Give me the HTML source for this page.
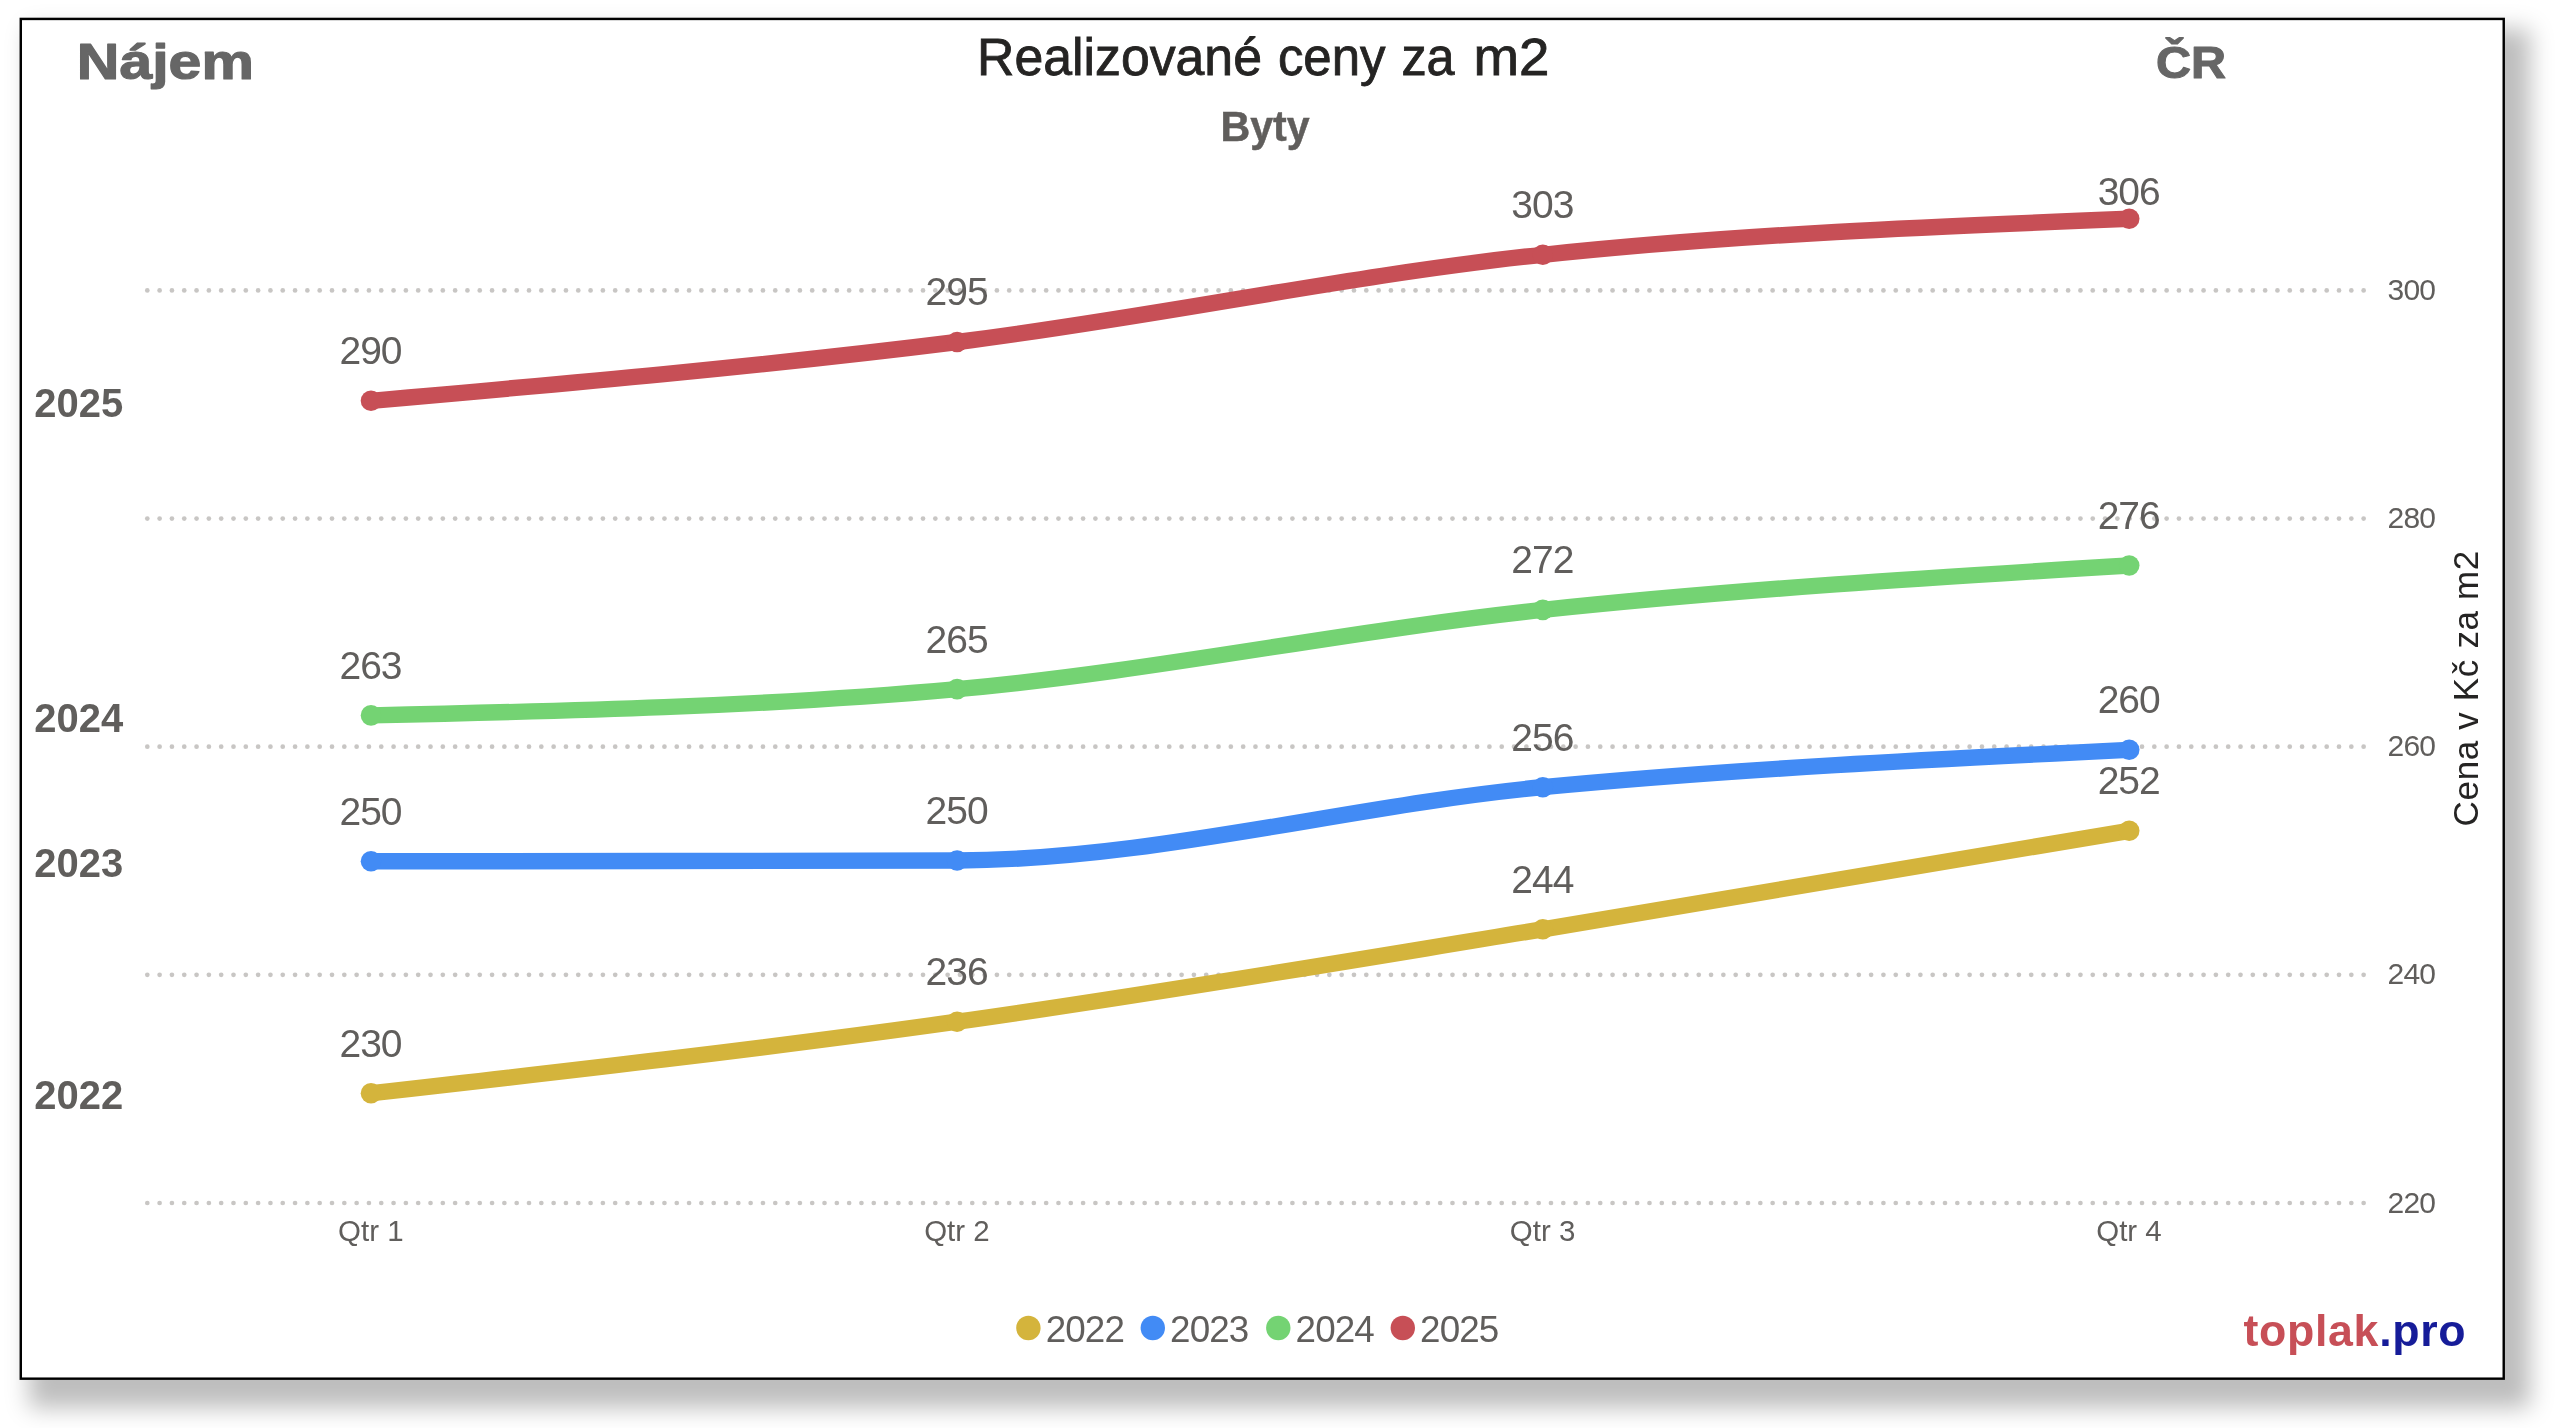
<!DOCTYPE html>
<html lang="cs"><head><meta charset="utf-8"><title>Realizované ceny za m2</title>
<style>
html,body{margin:0;padding:0;background:#fff;}
body{width:2560px;height:1428px;overflow:hidden;position:relative;font-family:"Liberation Sans",sans-serif;}
#shadow{position:absolute;left:19.6px;top:17.7px;width:2485.4px;height:1362.2px;background:#fff;box-shadow:17.2px 19.5px 22px 8.2px rgba(0,0,0,0.26);}
svg{position:absolute;left:0;top:0;will-change:transform;}
text{font-family:"Liberation Sans",sans-serif;}
.dl{font-size:39px;fill:#605e5c;text-anchor:middle;letter-spacing:-1px;}
.yt{font-size:30px;fill:#605e5c;letter-spacing:-0.9px;}
.xt{font-size:30.4px;fill:#605e5c;}
.yr{font-size:40px;font-weight:bold;fill:#605e5c;}
.lg{font-size:36.8px;fill:#605e5c;letter-spacing:-0.9px;}
</style></head><body>
<div id="shadow"></div>
<svg width="2560" height="1428" viewBox="0 0 2560 1428">
<rect x="20.78" y="18.93" width="2482.95" height="1359.75" fill="#fff" stroke="#000" stroke-width="2.45"/>
<defs><g id="gr" fill="#c8c6c4"><circle cx="147.30" cy="0" r="2.35"/><circle cx="159.61" cy="0" r="2.35"/><circle cx="171.93" cy="0" r="2.35"/><circle cx="184.24" cy="0" r="2.35"/><circle cx="196.55" cy="0" r="2.35"/><circle cx="208.87" cy="0" r="2.35"/><circle cx="221.18" cy="0" r="2.35"/><circle cx="233.49" cy="0" r="2.35"/><circle cx="245.80" cy="0" r="2.35"/><circle cx="258.12" cy="0" r="2.35"/><circle cx="270.43" cy="0" r="2.35"/><circle cx="282.74" cy="0" r="2.35"/><circle cx="295.06" cy="0" r="2.35"/><circle cx="307.37" cy="0" r="2.35"/><circle cx="319.68" cy="0" r="2.35"/><circle cx="332.00" cy="0" r="2.35"/><circle cx="344.31" cy="0" r="2.35"/><circle cx="356.62" cy="0" r="2.35"/><circle cx="368.93" cy="0" r="2.35"/><circle cx="381.25" cy="0" r="2.35"/><circle cx="393.56" cy="0" r="2.35"/><circle cx="405.87" cy="0" r="2.35"/><circle cx="418.19" cy="0" r="2.35"/><circle cx="430.50" cy="0" r="2.35"/><circle cx="442.81" cy="0" r="2.35"/><circle cx="455.12" cy="0" r="2.35"/><circle cx="467.44" cy="0" r="2.35"/><circle cx="479.75" cy="0" r="2.35"/><circle cx="492.06" cy="0" r="2.35"/><circle cx="504.38" cy="0" r="2.35"/><circle cx="516.69" cy="0" r="2.35"/><circle cx="529.00" cy="0" r="2.35"/><circle cx="541.32" cy="0" r="2.35"/><circle cx="553.63" cy="0" r="2.35"/><circle cx="565.94" cy="0" r="2.35"/><circle cx="578.26" cy="0" r="2.35"/><circle cx="590.57" cy="0" r="2.35"/><circle cx="602.88" cy="0" r="2.35"/><circle cx="615.19" cy="0" r="2.35"/><circle cx="627.51" cy="0" r="2.35"/><circle cx="639.82" cy="0" r="2.35"/><circle cx="652.13" cy="0" r="2.35"/><circle cx="664.45" cy="0" r="2.35"/><circle cx="676.76" cy="0" r="2.35"/><circle cx="689.07" cy="0" r="2.35"/><circle cx="701.38" cy="0" r="2.35"/><circle cx="713.70" cy="0" r="2.35"/><circle cx="726.01" cy="0" r="2.35"/><circle cx="738.32" cy="0" r="2.35"/><circle cx="750.64" cy="0" r="2.35"/><circle cx="762.95" cy="0" r="2.35"/><circle cx="775.26" cy="0" r="2.35"/><circle cx="787.58" cy="0" r="2.35"/><circle cx="799.89" cy="0" r="2.35"/><circle cx="812.20" cy="0" r="2.35"/><circle cx="824.52" cy="0" r="2.35"/><circle cx="836.83" cy="0" r="2.35"/><circle cx="849.14" cy="0" r="2.35"/><circle cx="861.45" cy="0" r="2.35"/><circle cx="873.77" cy="0" r="2.35"/><circle cx="886.08" cy="0" r="2.35"/><circle cx="898.39" cy="0" r="2.35"/><circle cx="910.71" cy="0" r="2.35"/><circle cx="923.02" cy="0" r="2.35"/><circle cx="935.33" cy="0" r="2.35"/><circle cx="947.64" cy="0" r="2.35"/><circle cx="959.96" cy="0" r="2.35"/><circle cx="972.27" cy="0" r="2.35"/><circle cx="984.58" cy="0" r="2.35"/><circle cx="996.90" cy="0" r="2.35"/><circle cx="1009.21" cy="0" r="2.35"/><circle cx="1021.52" cy="0" r="2.35"/><circle cx="1033.84" cy="0" r="2.35"/><circle cx="1046.15" cy="0" r="2.35"/><circle cx="1058.46" cy="0" r="2.35"/><circle cx="1070.78" cy="0" r="2.35"/><circle cx="1083.09" cy="0" r="2.35"/><circle cx="1095.40" cy="0" r="2.35"/><circle cx="1107.71" cy="0" r="2.35"/><circle cx="1120.03" cy="0" r="2.35"/><circle cx="1132.34" cy="0" r="2.35"/><circle cx="1144.65" cy="0" r="2.35"/><circle cx="1156.97" cy="0" r="2.35"/><circle cx="1169.28" cy="0" r="2.35"/><circle cx="1181.59" cy="0" r="2.35"/><circle cx="1193.90" cy="0" r="2.35"/><circle cx="1206.22" cy="0" r="2.35"/><circle cx="1218.53" cy="0" r="2.35"/><circle cx="1230.84" cy="0" r="2.35"/><circle cx="1243.16" cy="0" r="2.35"/><circle cx="1255.47" cy="0" r="2.35"/><circle cx="1267.78" cy="0" r="2.35"/><circle cx="1280.10" cy="0" r="2.35"/><circle cx="1292.41" cy="0" r="2.35"/><circle cx="1304.72" cy="0" r="2.35"/><circle cx="1317.04" cy="0" r="2.35"/><circle cx="1329.35" cy="0" r="2.35"/><circle cx="1341.66" cy="0" r="2.35"/><circle cx="1353.97" cy="0" r="2.35"/><circle cx="1366.29" cy="0" r="2.35"/><circle cx="1378.60" cy="0" r="2.35"/><circle cx="1390.91" cy="0" r="2.35"/><circle cx="1403.23" cy="0" r="2.35"/><circle cx="1415.54" cy="0" r="2.35"/><circle cx="1427.85" cy="0" r="2.35"/><circle cx="1440.16" cy="0" r="2.35"/><circle cx="1452.48" cy="0" r="2.35"/><circle cx="1464.79" cy="0" r="2.35"/><circle cx="1477.10" cy="0" r="2.35"/><circle cx="1489.42" cy="0" r="2.35"/><circle cx="1501.73" cy="0" r="2.35"/><circle cx="1514.04" cy="0" r="2.35"/><circle cx="1526.36" cy="0" r="2.35"/><circle cx="1538.67" cy="0" r="2.35"/><circle cx="1550.98" cy="0" r="2.35"/><circle cx="1563.30" cy="0" r="2.35"/><circle cx="1575.61" cy="0" r="2.35"/><circle cx="1587.92" cy="0" r="2.35"/><circle cx="1600.23" cy="0" r="2.35"/><circle cx="1612.55" cy="0" r="2.35"/><circle cx="1624.86" cy="0" r="2.35"/><circle cx="1637.17" cy="0" r="2.35"/><circle cx="1649.49" cy="0" r="2.35"/><circle cx="1661.80" cy="0" r="2.35"/><circle cx="1674.11" cy="0" r="2.35"/><circle cx="1686.42" cy="0" r="2.35"/><circle cx="1698.74" cy="0" r="2.35"/><circle cx="1711.05" cy="0" r="2.35"/><circle cx="1723.36" cy="0" r="2.35"/><circle cx="1735.68" cy="0" r="2.35"/><circle cx="1747.99" cy="0" r="2.35"/><circle cx="1760.30" cy="0" r="2.35"/><circle cx="1772.62" cy="0" r="2.35"/><circle cx="1784.93" cy="0" r="2.35"/><circle cx="1797.24" cy="0" r="2.35"/><circle cx="1809.56" cy="0" r="2.35"/><circle cx="1821.87" cy="0" r="2.35"/><circle cx="1834.18" cy="0" r="2.35"/><circle cx="1846.49" cy="0" r="2.35"/><circle cx="1858.81" cy="0" r="2.35"/><circle cx="1871.12" cy="0" r="2.35"/><circle cx="1883.43" cy="0" r="2.35"/><circle cx="1895.75" cy="0" r="2.35"/><circle cx="1908.06" cy="0" r="2.35"/><circle cx="1920.37" cy="0" r="2.35"/><circle cx="1932.68" cy="0" r="2.35"/><circle cx="1945.00" cy="0" r="2.35"/><circle cx="1957.31" cy="0" r="2.35"/><circle cx="1969.62" cy="0" r="2.35"/><circle cx="1981.94" cy="0" r="2.35"/><circle cx="1994.25" cy="0" r="2.35"/><circle cx="2006.56" cy="0" r="2.35"/><circle cx="2018.88" cy="0" r="2.35"/><circle cx="2031.19" cy="0" r="2.35"/><circle cx="2043.50" cy="0" r="2.35"/><circle cx="2055.82" cy="0" r="2.35"/><circle cx="2068.13" cy="0" r="2.35"/><circle cx="2080.44" cy="0" r="2.35"/><circle cx="2092.75" cy="0" r="2.35"/><circle cx="2105.07" cy="0" r="2.35"/><circle cx="2117.38" cy="0" r="2.35"/><circle cx="2129.69" cy="0" r="2.35"/><circle cx="2142.01" cy="0" r="2.35"/><circle cx="2154.32" cy="0" r="2.35"/><circle cx="2166.63" cy="0" r="2.35"/><circle cx="2178.95" cy="0" r="2.35"/><circle cx="2191.26" cy="0" r="2.35"/><circle cx="2203.57" cy="0" r="2.35"/><circle cx="2215.88" cy="0" r="2.35"/><circle cx="2228.20" cy="0" r="2.35"/><circle cx="2240.51" cy="0" r="2.35"/><circle cx="2252.82" cy="0" r="2.35"/><circle cx="2265.14" cy="0" r="2.35"/><circle cx="2277.45" cy="0" r="2.35"/><circle cx="2289.76" cy="0" r="2.35"/><circle cx="2302.08" cy="0" r="2.35"/><circle cx="2314.39" cy="0" r="2.35"/><circle cx="2326.70" cy="0" r="2.35"/><circle cx="2339.01" cy="0" r="2.35"/><circle cx="2351.33" cy="0" r="2.35"/><circle cx="2363.64" cy="0" r="2.35"/></g></defs>
<use href="#gr" y="290.40"/>
<use href="#gr" y="518.55"/>
<use href="#gr" y="746.70"/>
<use href="#gr" y="974.85"/>
<use href="#gr" y="1203.00"/>
<g class="yt">
<text x="2387.6" y="299.9">300</text>
<text x="2387.6" y="528.0">280</text>
<text x="2387.6" y="756.2">260</text>
<text x="2387.6" y="984.4">240</text>
<text x="2387.6" y="1212.5">220</text>
</g>
<g class="xt">
<text x="338.05" y="1240.8" textLength="65.5" lengthAdjust="spacingAndGlyphs">Qtr 1</text>
<text x="924.15" y="1240.8" textLength="65.5" lengthAdjust="spacingAndGlyphs">Qtr 2</text>
<text x="1509.85" y="1240.8" textLength="65.5" lengthAdjust="spacingAndGlyphs">Qtr 3</text>
<text x="2096.25" y="1240.8" textLength="65.5" lengthAdjust="spacingAndGlyphs">Qtr 4</text>
</g>
<path d="M371.00,1093.30C566.37,1071.17 761.73,1049.05 957.10,1021.70C1152.33,994.37 1347.57,961.10 1542.80,929.30C1738.27,897.47 1933.73,864.13 2129.20,830.80" fill="none" stroke="#d4b43c" stroke-width="16.4" stroke-linecap="round" stroke-linejoin="round"/>
<g fill="#d4b43c"><circle cx="371.0" cy="1093.3" r="10.3"/><circle cx="957.1" cy="1021.7" r="10.3"/><circle cx="1542.8" cy="929.3" r="10.3"/><circle cx="2129.2" cy="830.8" r="10.3"/></g>
<path d="M371.00,861.30C566.37,861.17 761.73,861.03 957.10,860.50C1152.33,859.97 1347.57,805.65 1542.80,787.20C1738.27,768.73 1933.73,759.27 2129.20,749.80" fill="none" stroke="#428bf5" stroke-width="16.4" stroke-linecap="round" stroke-linejoin="round"/>
<g fill="#428bf5"><circle cx="371.0" cy="861.3" r="10.3"/><circle cx="957.1" cy="860.5" r="10.3"/><circle cx="1542.8" cy="787.2" r="10.3"/><circle cx="2129.2" cy="749.8" r="10.3"/></g>
<path d="M371.00,715.40C566.37,711.02 761.73,706.63 957.10,689.10C1152.33,671.58 1347.57,630.49 1542.80,609.90C1738.27,589.28 1933.73,577.39 2129.20,565.50" fill="none" stroke="#74d373" stroke-width="16.4" stroke-linecap="round" stroke-linejoin="round"/>
<g fill="#74d373"><circle cx="371.0" cy="715.4" r="10.3"/><circle cx="957.1" cy="689.1" r="10.3"/><circle cx="1542.8" cy="609.9" r="10.3"/><circle cx="2129.2" cy="565.5" r="10.3"/></g>
<path d="M371.00,400.80C566.37,383.57 761.73,366.34 957.10,342.00C1152.33,317.67 1347.57,275.33 1542.80,254.80C1738.27,234.24 1933.73,226.52 2129.20,218.80" fill="none" stroke="#c74f56" stroke-width="16.4" stroke-linecap="round" stroke-linejoin="round"/>
<g fill="#c74f56"><circle cx="371.0" cy="400.8" r="10.3"/><circle cx="957.1" cy="342.0" r="10.3"/><circle cx="1542.8" cy="254.8" r="10.3"/><circle cx="2129.2" cy="218.8" r="10.3"/></g>
<g class="dl">
<text x="370.5" y="1056.7">230</text>
<text x="956.6" y="985.1">236</text>
<text x="1542.3" y="892.7">244</text>
<text x="2128.7" y="794.2">252</text>
<text x="370.5" y="824.7">250</text>
<text x="956.6" y="823.9">250</text>
<text x="1542.3" y="750.6">256</text>
<text x="2128.7" y="713.2">260</text>
<text x="370.5" y="678.8">263</text>
<text x="956.6" y="652.5">265</text>
<text x="1542.3" y="573.3">272</text>
<text x="2128.7" y="528.9">276</text>
<text x="370.5" y="364.2">290</text>
<text x="956.6" y="305.4">295</text>
<text x="1542.3" y="218.2">303</text>
<text x="2128.7" y="204.7">306</text>
</g>
<g class="yr">
<text x="34.3" y="416.5">2025</text>
<text x="34.3" y="731.7">2024</text>
<text x="34.3" y="877.1">2023</text>
<text x="34.3" y="1109.1">2022</text>
</g>
<text x="977.03" y="74.60" textLength="284.96" lengthAdjust="spacingAndGlyphs" font-size="51" fill="#252423" stroke="#252423" stroke-width="0.8">Realizované</text>
<text x="1277.89" y="74.60" textLength="107.68" lengthAdjust="spacingAndGlyphs" font-size="51" fill="#252423" stroke="#252423" stroke-width="0.8">ceny</text>
<text x="1401.44" y="74.60" textLength="53.19" lengthAdjust="spacingAndGlyphs" font-size="51" fill="#252423" stroke="#252423" stroke-width="0.8">za</text>
<text x="1473.42" y="74.60" textLength="75.88" lengthAdjust="spacingAndGlyphs" font-size="51" fill="#252423" stroke="#252423" stroke-width="0.8">m2</text>
<text x="1220.54" y="141.00" textLength="89.11" lengthAdjust="spacingAndGlyphs" font-size="42.6" font-weight="bold" fill="#605e5c" stroke="#605e5c" stroke-width="0.5">Byty</text>
<text x="76.81" y="79.20" textLength="177.04" lengthAdjust="spacingAndGlyphs" font-size="50" font-weight="bold" fill="#666" stroke="#666" stroke-width="1.2" stroke-linejoin="round">Nájem</text>
<text x="2156.06" y="78.30" textLength="70.14" lengthAdjust="spacingAndGlyphs" font-size="45.2" font-weight="bold" fill="#666" stroke="#666" stroke-width="1.1" stroke-linejoin="round">ČR</text>
<text transform="translate(2477.7,688.2) rotate(-90)" text-anchor="middle" font-size="35" fill="#252423" letter-spacing="0.66">Cena v Kč za m2</text>
<g class="lg">
<circle cx="1028.4" cy="1328" r="12.2" fill="#d4b43c"/>
<text x="1045.7" y="1342.4">2022</text>
<circle cx="1152.8" cy="1328" r="12.2" fill="#428bf5"/>
<text x="1170.1" y="1342.4">2023</text>
<circle cx="1278.3" cy="1328" r="12.2" fill="#74d373"/>
<text x="1295.6" y="1342.4">2024</text>
<circle cx="1402.8" cy="1328" r="12.2" fill="#c74f56"/>
<text x="1420.1" y="1342.4">2025</text>
</g>
<text x="2243.4" y="1345.8" font-size="44.7" letter-spacing="0.69" font-weight="bold"><tspan fill="#c74f57">toplak</tspan><tspan fill="#161c99">.pro</tspan></text>
</svg>
</body></html>
